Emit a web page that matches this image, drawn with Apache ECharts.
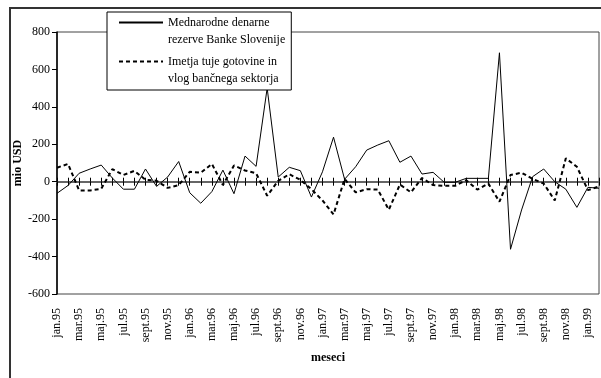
<!DOCTYPE html>
<html>
<head>
<meta charset="utf-8">
<script src="https://cdn.jsdelivr.net/npm/echarts@6/dist/echarts.min.js"></script>
<style>
  html, body { margin: 0; padding: 0; background: #fff; }
  #chart { width: 601px; height: 378px; }
</style>
</head>
<body>
<div id="chart"></div>
<script>
// months jan.95 .. feb.99
const months = [
  'jan.95', 'feb.95', 'mar.95', 'apr.95', 'maj.95', 'jun.95', 'jul.95', 'avg.95', 'sept.95', 'okt.95', 'nov.95', 'dec.95',
  'jan.96', 'feb.96', 'mar.96', 'apr.96', 'maj.96', 'jun.96', 'jul.96', 'avg.96', 'sept.96', 'okt.96', 'nov.96', 'dec.96',
  'jan.97', 'feb.97', 'mar.97', 'apr.97', 'maj.97', 'jun.97', 'jul.97', 'avg.97', 'sept.97', 'okt.97', 'nov.97', 'dec.97',
  'jan.98', 'feb.98', 'mar.98', 'apr.98', 'maj.98', 'jun.98', 'jul.98', 'avg.98', 'sept.98', 'okt.98', 'nov.98', 'dec.98',
  'jan.99', 'feb.99'
];

const reserveName = 'Mednarodne denarne\nrezerve Banke Slovenije';
const bankName = 'Imetja tuje gotovine in\nvlog bančnega sektorja';

// mio USD
const reserves = [
  -62, -20, 45, 68, 89, 20, -40, -40, 68, -25, 25, 108,
  -59, -115, -53, 62, -64, 137, 82, 500, 25, 77, 59, -82,
  53, 238, 13, 80, 169, 196, 219, 104, 137, 41, 50, -3,
  -3, 18, 18, 18, 689, -361, -151, 27, 68, 0, -40, -137,
  -30, -35
];
const banks = [
  75, 95, -47, -47, -38, 67, 36, 58, 10, 5, -33, -18,
  53, 48, 95, -18, 87, 60, 45, -75, 5, 40, 10, -40,
  -100, -175, 15, -57, -40, -42, -150, -15, -57, 20, -18, -22,
  -22, 8, -42, -10, -107, 36, 48, 15, -10, -100, 125, 80,
  -45, -25
];

const yMin = -600;
const yMax = 800;
const yStep = 200;

const serif = '"Liberation Serif", "Times New Roman", serif';

const chart = echarts.init(document.getElementById('chart'));

const gridPos = { left: 57, right: 2, top: 32, bottom: 84 };

chart.setOption({
  animation: false,
  textStyle: { fontFamily: serif },
  graphic: [
    {
      type: 'rect',
      shape: { x: 10, y: 8, width: 640, height: 420 },
      style: { fill: 'none', stroke: '#333', lineWidth: 2 },
      z: 100
    }
  ],
  legend: {
    orient: 'vertical',
    left: 107,
    top: 12,
    padding: [-15, 6, 3, 11],
    itemGap: -12,
    itemWidth: 44,
    itemHeight: 10,
    selectedMode: false,
    backgroundColor: '#fff',
    borderColor: '#000',
    borderWidth: 1,
    data: [reserveName, bankName],
    // blank first line keeps the sample line level with the first text line
    formatter: function (name) { return ' \n' + name; },
    itemStyle: { opacity: 0, borderWidth: 0 },
    textStyle: {
      fontFamily: serif,
      fontSize: 12,
      color: '#000',
      lineHeight: 17
    },
    z: 50
  },
  grid: [
    Object.assign({ show: true, borderColor: '#444', borderWidth: 1, backgroundColor: '#fff' }, gridPos),
    Object.assign({ show: false }, gridPos)
  ],
  xAxis: [
    {
      type: 'category',
      gridIndex: 0,
      data: months,
      boundaryGap: false,
      position: 'bottom',
      axisLine: { onZero: false, show: false },
      axisTick: { show: false },
      axisLabel: {
        interval: 1,
        rotate: 90,
        margin: 14,
        fontFamily: serif,
        fontSize: 12,
        color: '#000'
      },
      name: 'meseci',
      nameLocation: 'middle',
      nameGap: 58,
      nameTextStyle: { fontFamily: serif, fontSize: 12, fontWeight: 'bold', color: '#000' }
    },
    {
      type: 'category',
      gridIndex: 0,
      data: months,
      boundaryGap: false,
      position: 'top',
      axisLine: { onZero: true, lineStyle: { color: '#666', width: 2 } },
      axisTick: { show: true, inside: true, length: 4, interval: 0, lineStyle: { color: '#000', width: 1 } },
      axisLabel: { show: false }
    },
    {
      type: 'category',
      gridIndex: 1,
      data: months,
      boundaryGap: false,
      position: 'bottom',
      axisLine: { onZero: true, show: false },
      axisTick: { show: true, inside: true, length: 4, interval: 0, lineStyle: { color: '#000', width: 1 } },
      axisLabel: { show: false }
    }
  ],
  yAxis: [
    {
      type: 'value',
      gridIndex: 0,
      min: yMin,
      max: yMax,
      interval: yStep,
      axisLine: { show: true, lineStyle: { color: '#000', width: 1.5 } },
      axisTick: { show: true, length: 5, lineStyle: { color: '#000' } },
      splitLine: { show: false },
      axisLabel: { margin: 7, fontFamily: serif, fontSize: 12, color: '#000' },
      name: 'mio USD',
      nameLocation: 'middle',
      nameGap: 33,
      nameMoveOverlap: false,
      nameTextStyle: { fontFamily: serif, fontSize: 12, fontWeight: 'bold', color: '#000' }
    },
    {
      type: 'value',
      gridIndex: 1,
      min: yMin,
      max: yMax,
      interval: yStep,
      show: false
    }
  ],
  series: [
    {
      name: reserveName,
      type: 'line',
      xAxisIndex: 0,
      yAxisIndex: 0,
      data: reserves,
      symbol: 'none',
      lineStyle: { color: '#000', width: 1 },
      itemStyle: { color: '#000' },
      z: 3
    },
    {
      name: bankName,
      type: 'line',
      xAxisIndex: 0,
      yAxisIndex: 0,
      data: banks,
      symbol: 'none',
      lineStyle: { color: '#000', width: 2, type: [4, 3] },
      itemStyle: { color: '#000' },
      z: 3
    }
  ]
});
</script>
</body>
</html>
